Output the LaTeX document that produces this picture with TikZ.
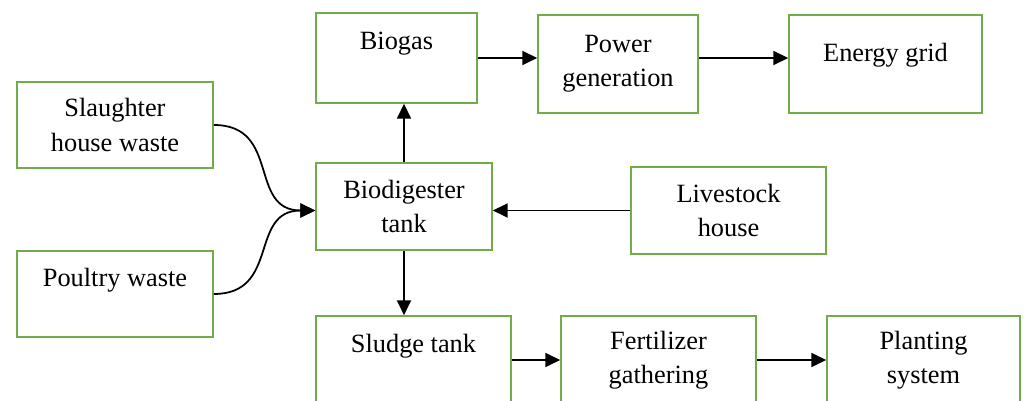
\documentclass[tikz,border=0pt]{standalone}
\usepackage{fontspec}
\setmainfont{Liberation Serif}
\usepackage{xcolor}
\usepackage{tikz}
\usetikzlibrary{positioning,arrows.meta,calc}

\definecolor{boxgreen}{HTML}{70AD47}

\begin{document}
\begin{tikzpicture}[x=0.02cm, y=-0.02cm,
    box/.style={draw=boxgreen, line width=0.9pt, align=center, inner sep=0pt,
      font=\fontsize{15}{19.4}\selectfont},
    flow/.style={-{Triangle[length=8.5pt,width=8pt]}, line width=1pt, black}]
    \useasboundingbox (0,0) rectangle (1024,401);
    % input wastes
    \node[box, minimum width=196*0.02cm, minimum height=86*0.02cm] (slaughter) at (115,125) {Slaughter\\house waste};
    \node[box, minimum width=196*0.02cm, minimum height=86*0.02cm] (poultry) at (115,294) {Poultry waste\\~};
    % digester and livestock
    \node[box, minimum width=176*0.02cm, minimum height=87*0.02cm] (biodig) at (404,206.5) {Biodigester\\tank};
    \node[box, minimum width=195*0.02cm, minimum height=87*0.02cm] (livestock) at (728.5,210.5) {Livestock\\house};
    % gas line
    \node[box, minimum width=161*0.02cm, minimum height=90*0.02cm] (biogas) at (396.5,58) {Biogas\\~};
    \node[box, minimum width=160*0.02cm, minimum height=98*0.02cm] (power) at (618,64) {Power\\generation};
    \node[box, minimum width=193*0.02cm, minimum height=98*0.02cm] (energy) at (885.5,64) {\rule{0pt}{17pt}Energy grid\\~};
    % sludge line
    \node[box, minimum width=195*0.02cm, minimum height=88*0.02cm] (sludge) at (413.5,360) {Sludge tank\\~};
    \node[box, minimum width=195*0.02cm, minimum height=88*0.02cm] (fert) at (658.5,360) {Fertilizer\\gathering};
    \node[box, minimum width=193*0.02cm, minimum height=88*0.02cm] (plant) at (923.5,360) {Planting\\system};

    \coordinate (feed) at (biodig.west |- livestock.west);

    % connectors
    \draw[flow] (slaughter.east) to[out=0, in=180, looseness=1.3] (feed);
    \draw[flow] (poultry.east) to[out=0, in=180, looseness=1.3] (feed);
    \draw[flow] (livestock.west) -- (livestock.west -| biodig.east);
    \draw[flow] (biodig.north) -- (biodig.north |- biogas.south);
    \draw[flow] (biogas.east) -- (biogas.east -| power.west);
    \draw[flow] (power.east |- biogas.east) -- (biogas.east -| energy.west);
    \draw[flow] (biodig.south) -- (biodig.south |- sludge.north);
    \draw[flow] (sludge.east) -- (fert.west);
    \draw[flow] (fert.east) -- (plant.west);
\end{tikzpicture}
\end{document}
